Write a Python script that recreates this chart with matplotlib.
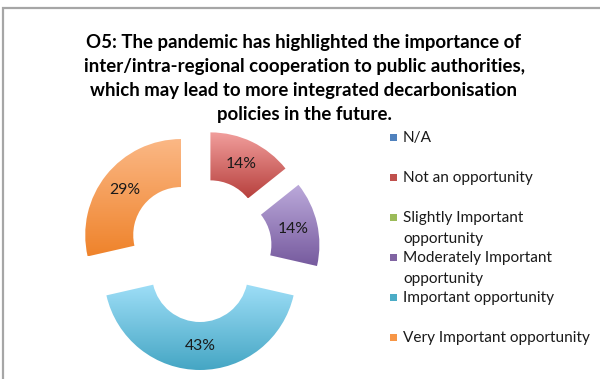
import numpy as np
import matplotlib.pyplot as plt
from matplotlib.colors import LinearSegmentedColormap
from matplotlib.patches import Rectangle

# survey answers (counts) for question O5
categories = ['N/A', 'Not an opportunity', 'Slightly Important\nopportunity',
              'Moderately Important\nopportunity', 'Important opportunity',
              'Very Important opportunity']
responses = [0, 1, 0, 1, 3, 2]

title = ('O5: The pandemic has highlighted the importance of\n'
         'inter/intra-regional cooperation to public authorities,\n'
         'which may lead to more integrated decarbonisation\n'
         'policies in the future.')

# office palette, plus light/dark ends for the wedge gradients
BASE = ['#4F81BD', '#C0504D', '#9BBB59', '#8064A2', '#4BACC6', '#F79646']
TOP = ['#9DB8DE', '#F2A09E', '#C6DC9A', '#BCAADB', '#9EDEF7', '#FBB886']
BOTTOM = ['#3E6DA8', '#B7403D', '#7FA042', '#765A9E', '#45A6C4', '#EF832B']

W, H = 600, 379
fig = plt.figure(figsize=(W / 100, H / 100), dpi=100)
ax = fig.add_axes([0, 0, 1, 1])

# work in pixel units, y measured upwards
cx, cy, R = 200, H - 250, 96


def pct(p):
    return '%.0f%%' % p if p > 0 else ''


wedges, _, autotexts = ax.pie(
    responses, explode=[24] * len(responses), radius=R, center=(cx, cy),
    startangle=90, counterclock=False, autopct=pct, pctdistance=0.75,
    wedgeprops=dict(width=R * 0.5, linewidth=0, edgecolor='none'),
    textprops=dict(fontsize=11.3, family='Lato', color='#1a1a1a'))

# vertical gradient in each wedge
grad = np.linspace(0, 1, 256).reshape(-1, 1)
for w, c_top, c_bot, n in zip(wedges, TOP, BOTTOM, responses):
    w.set_facecolor('none')
    if n == 0:
        continue
    bb = w.get_path().get_extents()
    cmap = LinearSegmentedColormap.from_list('g', [c_bot, c_top])
    im = ax.imshow(grad, cmap=cmap, origin='lower', aspect='auto',
                   extent=(bb.x0, bb.x1, bb.y0, bb.y1), interpolation='bilinear',
                   zorder=1)
    im.set_clip_path(w)

for t in autotexts:
    t.set_zorder(5)

ax.set_xlim(0, W)
ax.set_ylim(0, H)
ax.set_aspect('equal')
ax.axis('off')

# title
fig.text(304 / W, 1 - 34 / H, title, ha='center', va='top', fontsize=13.4,
         family='Lato', fontweight='bold', color='#000000', linespacing=1.5)

# legend drawn as squares + labels, one slot every 40 px
for i, (lab, col) in enumerate(zip(categories, BASE)):
    ypix = 138 + 40 * i
    fig.patches.append(Rectangle((390 / W, 1 - (ypix + 3) / H), 7 / W, 7 / H,
                                 transform=fig.transFigure, fc=col, ec='none'))
    fig.text(403 / W, 1 - (ypix - 7) / H, lab, ha='left', va='top',
             fontsize=11.1, family='Lato', color='#1a1a1a', linespacing=1.6)

# chart area border
fig.patches.append(Rectangle((3 / W, -0.2), 1.2, 1.2 - 8 / H,
                             transform=fig.transFigure, fill=False,
                             ec='#a6a6a6', lw=1.6))

fig.savefig('out.png', dpi=100)
